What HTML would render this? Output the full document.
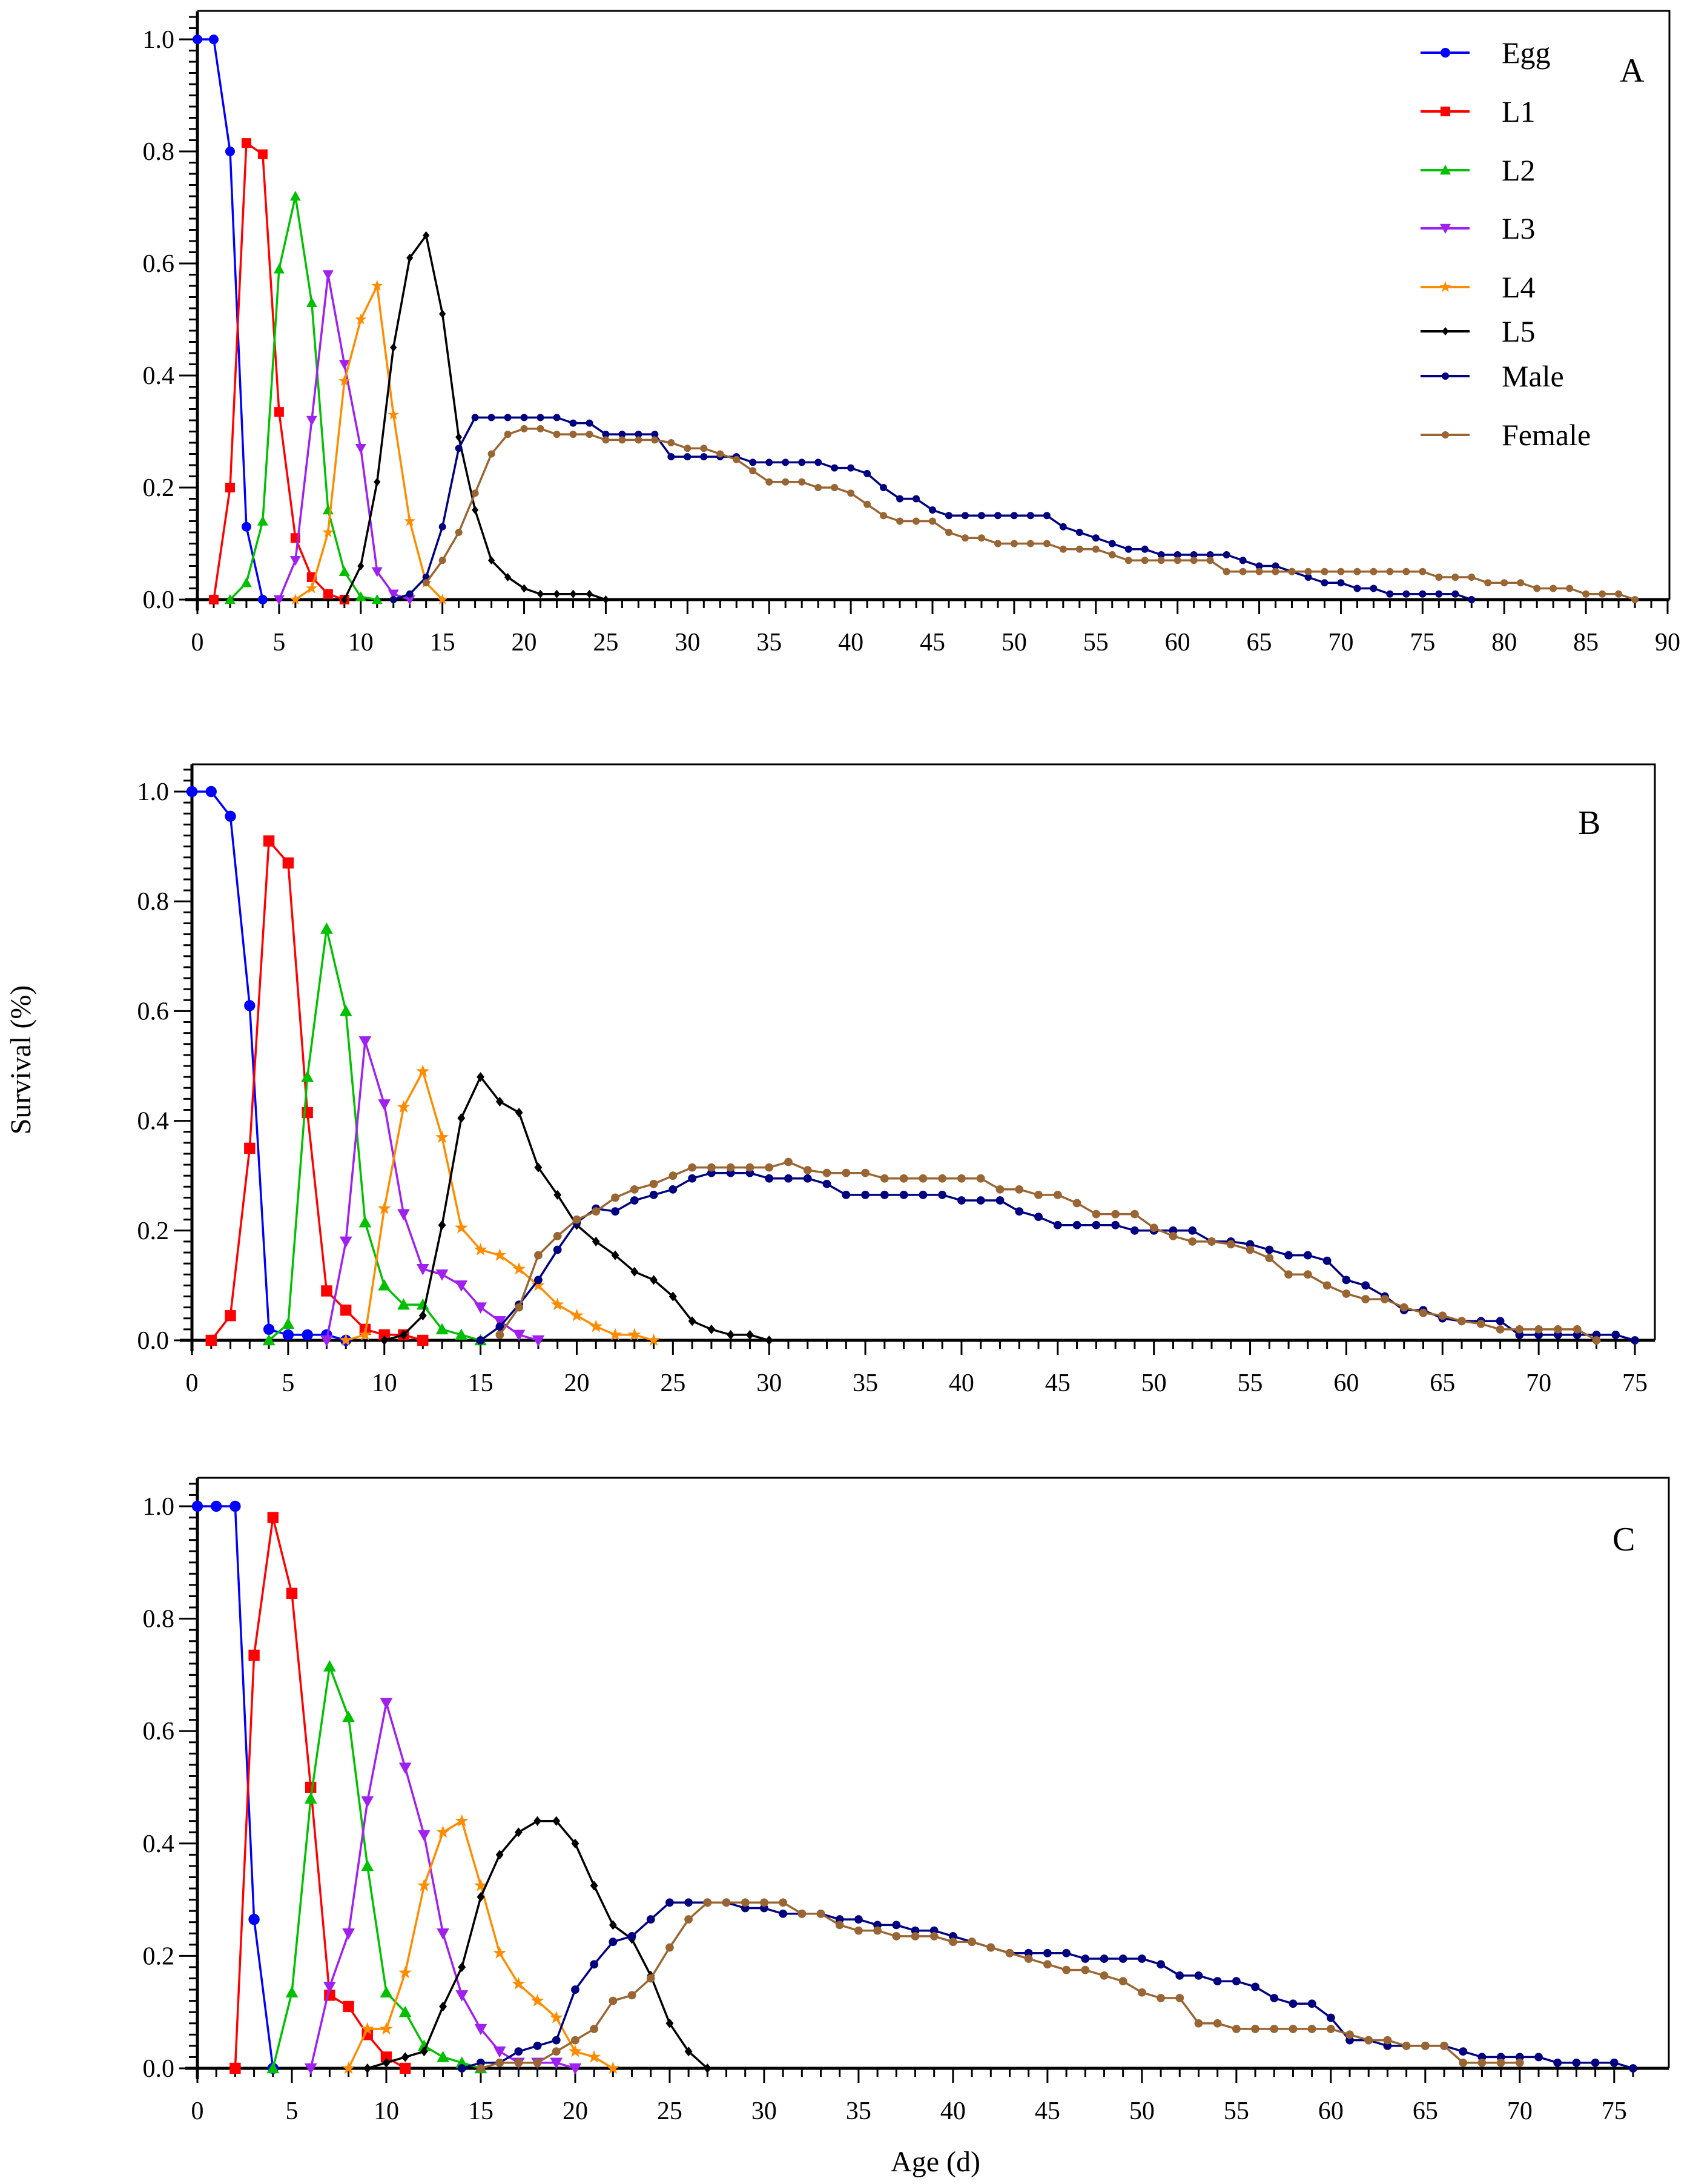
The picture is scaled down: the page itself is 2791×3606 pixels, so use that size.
<!DOCTYPE html>
<html><head><meta charset="utf-8"><style>
html,body{margin:0;padding:0;background:#fff;}
svg{display:block;font-family:"Liberation Serif","Times New Roman",serif;}
svg text{font-family:"Liberation Serif","Times New Roman",serif;}
</style></head><body>
<svg id="chart" width="2791" height="3606" viewBox="0 0 2791 3606" xmlns="http://www.w3.org/2000/svg" font-family="Liberation Serif, serif">
<text font-family="Liberation Serif, serif" x="0" y="0" transform="translate(50,1750) rotate(-90)" font-size="48" text-anchor="middle">Survival (%)</text>
<text font-family="Liberation Serif, serif" x="1545" y="3585" font-size="48" text-anchor="middle">Age (d)</text>
</svg>
<script>
// ---------- Panel A data ----------
const aEgg={0:1,1:1,2:0.8,3:0.13,4:0};
const aL1={1:0,2:0.2,3:0.815,4:0.795,5:0.335,6:0.11,7:0.04,8:0.01,9:0};
const aL2={2:0,3:0.03,4:0.14,5:0.59,6:0.72,7:0.53,8:0.16,9:0.05,10:0.005,11:0};
const aL3={5:0,6:0.07,7:0.32,8:0.58,9:0.42,10:0.27,11:0.05,12:0.01,13:0};
const aL4={6:0,7:0.02,8:0.12,9:0.39,10:0.5,11:0.56,12:0.33,13:0.14,14:0.03,15:0};
const aL5={9:0,10:0.06,11:0.21,12:0.45,13:0.61,14:0.65,15:0.51,16:0.29,17:0.16,18:0.07,19:0.04,20:0.02,21:0.01,22:0.01,23:0.01,24:0.01,25:0};
const aMale={12:0,13:0.01,14:0.04,15:0.13,16:0.27,17:0.325,18:0.325,19:0.325,20:0.325,21:0.325,22:0.325,23:0.315,24:0.315,25:0.295,26:0.295,27:0.295,28:0.295,29:0.255,30:0.255,31:0.255,32:0.255,33:0.255,34:0.245,35:0.245,36:0.245,37:0.245,38:0.245,39:0.235,40:0.235,41:0.225,42:0.2,43:0.18,44:0.18,45:0.16,46:0.15,47:0.15,48:0.15,49:0.15,50:0.15,51:0.15,52:0.15,53:0.13,54:0.12,55:0.11,56:0.1,57:0.09,58:0.09,59:0.08,60:0.08,61:0.08,62:0.08,63:0.08,64:0.07,65:0.06,66:0.06,67:0.05,68:0.04,69:0.03,70:0.03,71:0.02,72:0.02,73:0.01,74:0.01,75:0.01,76:0.01,77:0.01,78:0};
const aFemale={14:0.03,15:0.07,16:0.12,17:0.19,18:0.26,19:0.295,20:0.305,21:0.305,22:0.295,23:0.295,24:0.295,25:0.285,26:0.285,27:0.285,28:0.285,29:0.28,30:0.27,31:0.27,32:0.26,33:0.25,34:0.23,35:0.21,36:0.21,37:0.21,38:0.2,39:0.2,40:0.19,41:0.17,42:0.15,43:0.14,44:0.14,45:0.14,46:0.12,47:0.11,48:0.11,49:0.1,50:0.1,51:0.1,52:0.1,53:0.09,54:0.09,55:0.09,56:0.08,57:0.07,58:0.07,59:0.07,60:0.07,61:0.07,62:0.07,63:0.05,64:0.05,65:0.05,66:0.05,67:0.05,68:0.05,69:0.05,70:0.05,71:0.05,72:0.05,73:0.05,74:0.05,75:0.05,76:0.04,77:0.04,78:0.04,79:0.03,80:0.03,81:0.03,82:0.02,83:0.02,84:0.02,85:0.01,86:0.01,87:0.01,88:0};
// ---------- Panel B data ----------
const bEgg={0:1,1:1,2:0.955,3:0.61,4:0.02,5:0.01,6:0.01,7:0.01,8:0};
const bL1={1:0,2:0.045,3:0.35,4:0.91,5:0.87,6:0.415,7:0.09,8:0.055,9:0.02,10:0.01,11:0.01,12:0};
const bL2={4:0,5:0.03,6:0.48,7:0.75,8:0.6,9:0.215,10:0.1,11:0.065,12:0.065,13:0.02,14:0.01,15:0};
const bL3={7:0,8:0.18,9:0.545,10:0.43,11:0.23,12:0.13,13:0.12,14:0.1,15:0.06,16:0.035,17:0.01,18:0};
const bL4={8:0,9:0.01,10:0.24,11:0.425,12:0.49,13:0.37,14:0.205,15:0.165,16:0.155,17:0.13,18:0.1,19:0.065,20:0.045,21:0.025,22:0.01,23:0.01,24:0};
const bL5={10:0,11:0.01,12:0.045,13:0.21,14:0.405,15:0.48,16:0.435,17:0.415,18:0.315,19:0.265,20:0.21,21:0.18,22:0.155,23:0.125,24:0.11,25:0.08,26:0.035,27:0.02,28:0.01,29:0.01,30:0};
const bMale={15:0,16:0.025,17:0.065,18:0.11,19:0.165,20:0.215,21:0.24,22:0.235,23:0.255,24:0.265,25:0.275,26:0.295,27:0.305,28:0.305,29:0.305,30:0.295,31:0.295,32:0.295,33:0.285,34:0.265,35:0.265,36:0.265,37:0.265,38:0.265,39:0.265,40:0.255,41:0.255,42:0.255,43:0.235,44:0.225,45:0.21,46:0.21,47:0.21,48:0.21,49:0.2,50:0.2,51:0.2,52:0.2,53:0.18,54:0.18,55:0.175,56:0.165,57:0.155,58:0.155,59:0.145,60:0.11,61:0.1,62:0.08,63:0.055,64:0.055,65:0.04,66:0.035,67:0.035,68:0.035,69:0.01,70:0.01,71:0.01,72:0.01,73:0.01,74:0.01,75:0};
const bFemale={16:0.01,17:0.06,18:0.155,19:0.19,20:0.22,21:0.235,22:0.26,23:0.275,24:0.285,25:0.3,26:0.315,27:0.315,28:0.315,29:0.315,30:0.315,31:0.325,32:0.31,33:0.305,34:0.305,35:0.305,36:0.295,37:0.295,38:0.295,39:0.295,40:0.295,41:0.295,42:0.275,43:0.275,44:0.265,45:0.265,46:0.25,47:0.23,48:0.23,49:0.23,50:0.205,51:0.19,52:0.18,53:0.18,54:0.175,55:0.165,56:0.15,57:0.12,58:0.12,59:0.1,60:0.085,61:0.075,62:0.075,63:0.06,64:0.05,65:0.045,66:0.035,67:0.03,68:0.02,69:0.02,70:0.02,71:0.02,72:0.02,73:0};
// ---------- Panel C data ----------
const cEgg={0:1,1:1,2:1,3:0.265,4:0};
const cL1={2:0,3:0.735,4:0.98,5:0.845,6:0.5,7:0.13,8:0.11,9:0.06,10:0.02,11:0};
const cL2={4:0,5:0.135,6:0.48,7:0.715,8:0.625,9:0.36,10:0.135,11:0.1,12:0.04,13:0.02,14:0.01,15:0};
const cL3={6:0,7:0.145,8:0.24,9:0.475,10:0.65,11:0.535,12:0.415,13:0.24,14:0.13,15:0.07,16:0.03,17:0.01,18:0.01,19:0.01,20:0};
const cL4={8:0,9:0.07,10:0.07,11:0.17,12:0.325,13:0.42,14:0.44,15:0.325,16:0.205,17:0.15,18:0.12,19:0.09,20:0.03,21:0.02,22:0};
const cL5={9:0,10:0.01,11:0.02,12:0.03,13:0.11,14:0.18,15:0.305,16:0.38,17:0.42,18:0.44,19:0.44,20:0.4,21:0.325,22:0.255,23:0.23,24:0.165,25:0.08,26:0.03,27:0};
const cMale={14:0,15:0.01,16:0.01,17:0.03,18:0.04,19:0.05,20:0.14,21:0.185,22:0.225,23:0.235,24:0.265,25:0.295,26:0.295,27:0.295,28:0.295,29:0.285,30:0.285,31:0.275,32:0.275,33:0.275,34:0.265,35:0.265,36:0.255,37:0.255,38:0.245,39:0.245,40:0.235,41:0.225,42:0.215,43:0.205,44:0.205,45:0.205,46:0.205,47:0.195,48:0.195,49:0.195,50:0.195,51:0.185,52:0.165,53:0.165,54:0.155,55:0.155,56:0.145,57:0.125,58:0.115,59:0.115,60:0.09,61:0.05,62:0.05,63:0.04,64:0.04,65:0.04,66:0.04,67:0.03,68:0.02,69:0.02,70:0.02,71:0.02,72:0.01,73:0.01,74:0.01,75:0.01,76:0};
const cFemale={15:0,16:0.01,17:0.01,18:0.01,19:0.03,20:0.05,21:0.07,22:0.12,23:0.13,24:0.16,25:0.215,26:0.265,27:0.295,28:0.295,29:0.295,30:0.295,31:0.295,32:0.275,33:0.275,34:0.255,35:0.245,36:0.245,37:0.235,38:0.235,39:0.235,40:0.225,41:0.225,42:0.215,43:0.205,44:0.195,45:0.185,46:0.175,47:0.175,48:0.165,49:0.155,50:0.135,51:0.125,52:0.125,53:0.08,54:0.08,55:0.07,56:0.07,57:0.07,58:0.07,59:0.07,60:0.07,61:0.06,62:0.05,63:0.05,64:0.04,65:0.04,66:0.04,67:0.01,68:0.01,69:0.01,70:0.01};

const seriesNames=["Egg","L1","L2","L3","L4","L5","Male","Female"];
const colors=["#0000ff","#ff0000","#00c000","#a020f0","#ff8c00","#000000","#000080","#996633"];
const shapes=["circle","square","up","down","star","diamond","dot","dot"];
const yTicks=[0,0.2,0.4,0.6,0.8,1.0];

const NS="http://www.w3.org/2000/svg";
const svg=document.getElementById("chart");
const FF="Liberation Serif, Times New Roman, serif";
function mk(tag,attrs,parent){const e=document.createElementNS(NS,tag);for(const k in attrs)e.setAttribute(k,attrs[k]);if(tag==="text")e.setAttribute("font-family",FF);(parent||svg).appendChild(e);return e;}

const panels=[
 {id:"a",label:"A",data:[aEgg,aL1,aL2,aL3,aL4,aL5,aMale,aFemale],x0:326,x1:2754,xmax:90,y0:990,y1:65,top:18,right:2757,lx:2675,ly:135,legend:true,sc:1},
 {id:"b",label:"B",data:[bEgg,bL1,bL2,bL3,bL4,bL5,bMale,bFemale],x0:317,x1:2700,xmax:75,y0:2213,y1:1307,top:1262,right:2733,lx:2606,ly:1377,legend:false,sc:1.15},
 {id:"c",label:"C",data:[cEgg,cL1,cL2,cL3,cL4,cL5,cMale,cFemale],x0:326,x1:2697,xmax:76,y0:3415,y1:2487,top:2440,right:2756,lx:2663,ly:2560,legend:false,sc:1.15,xTickMax:75}
];

function marker(g,shape,cx,cy,col,s){
  let e;
  if(shape==="circle"){e=mk("circle",{cx,cy,r:8*s,fill:col},g);}
  else if(shape==="dot"){e=mk("circle",{cx,cy,r:6*s,fill:col},g);}
  else if(shape==="square"){e=mk("rect",{x:cx-8*s,y:cy-8*s,width:16*s,height:16*s,fill:col},g);}
  else if(shape==="up"){const r=9*s;e=mk("polygon",{points:`${cx},${cy-r} ${cx+r},${cy+r*0.8} ${cx-r},${cy+r*0.8}`,fill:col},g);}
  else if(shape==="down"){const r=9*s;e=mk("polygon",{points:`${cx},${cy+r} ${cx+r},${cy-r*0.8} ${cx-r},${cy-r*0.8}`,fill:col},g);}
  else if(shape==="diamond"){const r=7*s;e=mk("polygon",{points:`${cx},${cy-r} ${cx+r*0.8},${cy} ${cx},${cy+r} ${cx-r*0.8},${cy}`,fill:col},g);}
  else if(shape==="star"){const R=10*s,r=4*s;let p=[];for(let i=0;i<10;i++){const a=-Math.PI/2+i*Math.PI/5;const rr=i%2?r:R;p.push((cx+rr*Math.cos(a)).toFixed(1)+","+(cy+rr*Math.sin(a)).toFixed(1));}e=mk("polygon",{points:p.join(" "),fill:col},g);}
  return e;
}

panels.forEach(P=>{
  const g=mk("g",{});
  
  
  const X=v=>P.x0+(P.x1-P.x0)*v/P.xmax;
  const Y=v=>P.y0+(P.y1-P.y0)*v;
  const fr=mk("path",{d:`M${P.x0},${P.top} H${P.right} V${P.y0}`,fill:"none",stroke:"#000","stroke-width":3},g);
  
  
  const ya=mk("line",{x1:P.x0,y1:Y(1.05),x2:P.x0,y2:P.y0+18,stroke:"#000","stroke-width":5},g);
  
  
  const xa=mk("line",{x1:P.x0-20,y1:P.y0,x2:P.right,y2:P.y0,stroke:"#000","stroke-width":5},g);
  
  
  for(let i=0;i<=52;i++){const v=i*0.02;const yy=Y(v);const maj=(i%10===0);
    mk("line",{x1:P.x0-(maj?30:14),y1:yy,x2:P.x0,y2:yy,stroke:"#000","stroke-width":3},g);}
  yTicks.forEach(v=>{const t=mk("text",{x:P.x0-38,y:Y(v)+14,"font-size":42,"text-anchor":"end"},g);t.textContent=v.toFixed(1);
    
    });
  const xtm=P.xTickMax!==undefined?P.xTickMax:P.xmax;
  for(let i=0;i<=P.xmax;i++){const maj=(i%5===0);
    mk("line",{x1:X(i),y1:P.y0,x2:X(i),y2:P.y0+(maj?24:14),stroke:"#000","stroke-width":3},g);
    if(maj&&i<=xtm){const t=mk("text",{x:X(i),y:P.y0+84,"font-size":42,"text-anchor":"middle"},g);t.textContent=String(i);
      
      }}
  P.data.forEach((d,si)=>{
    const sg=mk("g",{},g);
    
    
    const keys=Object.keys(d).map(Number).sort((a,b)=>a-b);
    const pts=keys.map(k=>X(k).toFixed(1)+","+Y(d[k]).toFixed(1)).join(" ");
    mk("polyline",{points:pts,fill:"none",stroke:colors[si],"stroke-width":3.5},sg);
    keys.forEach(k=>{const m=marker(sg,shapes[si],X(k),Y(d[k]),colors[si],P.sc);
      
      });
  });
  const pl=mk("text",{x:P.lx,y:P.ly,"font-size":56},g);pl.textContent=P.label;
  
  
  if(P.legend){
    const ly=[87,184,281,377,474,547,621,718];
    const lg=mk("g",{},g);
    
    
    seriesNames.forEach((n,si)=>{
      const eg=mk("g",{},lg);
      
      
      mk("line",{x1:2346,y1:ly[si],x2:2427,y2:ly[si],stroke:colors[si],"stroke-width":4},eg);
      marker(eg,shapes[si],2387,ly[si],colors[si],1);
      const t=mk("text",{x:2480,y:ly[si]+17,"font-size":50},eg);t.textContent=n;
    });
  }
});
</script>
</body></html>
